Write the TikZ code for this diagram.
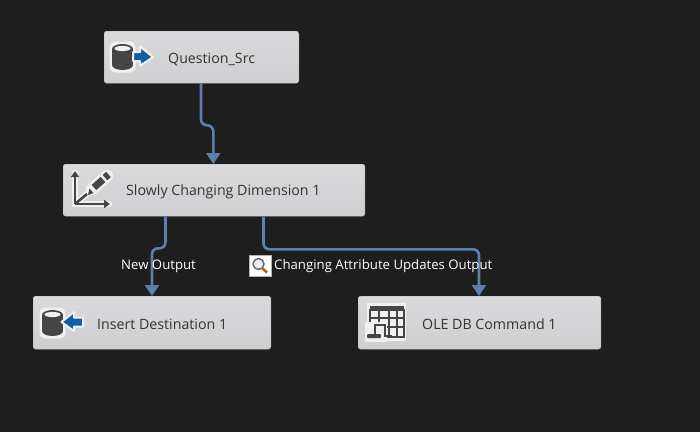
\documentclass[tikz,border=0pt]{standalone}
\usepackage{fontspec}
\setmainfont{Open Sans}
\usetikzlibrary{arrows.meta,calc}
\definecolor{bgc}{HTML}{1E1E1E}
\definecolor{boxtop}{HTML}{DADADC}
\definecolor{boxbot}{HTML}{CFCFD2}
\definecolor{wire}{HTML}{5F7FA8}
\definecolor{ink}{HTML}{333333}
\definecolor{iconc}{HTML}{454545}
\definecolor{halocol}{HTML}{F0F0F0}
\definecolor{arrowblue}{HTML}{0F5FA8}
\tikzset{
  x=1pt,y=-1pt,
  taskbox/.style={rounded corners=2.5pt,top color=boxtop,bottom color=boxbot,draw=boxbot!90!black,line width=.3pt,minimum height=52pt,inner sep=0pt,anchor=north west},
  tasktext/.style={anchor=west,inner sep=0pt,text=ink,font=\fontsize{14.2}{16}\selectfont},
  outlabel/.style={anchor=west,inner sep=0pt,text=white,font=\fontsize{13.2}{15}\selectfont},
  wireline/.style={draw=wire,line width=2.6pt,rounded corners=6pt,-{Triangle[length=11pt,width=14pt]}},
}
% cylinder: left x, top y, width, height
\newcommand{\dbicon}[4]{%
  \fill[halocol,rounded corners=6pt] (#1-2.5,#2-2.5) rectangle (#1+#3+2.5,#2+#4+2.5);
  \fill[iconc] (#1,#2+5) rectangle (#1+#3,#2+#4-5);
  \fill[iconc] (#1+#3/2,#2+#4-5) ellipse[x radius=#3/2,y radius=5];
  \fill[iconc] (#1+#3/2,#2+5) ellipse[x radius=#3/2,y radius=5];
  \fill[halocol] (#1+#3/2,#2+4.5) ellipse[x radius=#3/2-2.5,y radius=2.6];
}
\begin{document}
\begin{tikzpicture}
\useasboundingbox (0,0) rectangle (700,432);
\fill[bgc] (0,0) rectangle (700,432);

\node[taskbox,minimum width=194.7pt] (qs) at (104,31) {};
\node[taskbox,minimum width=301.7pt] (scd) at (63,164) {};
\node[taskbox,minimum width=237.7pt,minimum height=53pt] (ins) at (33,296) {};
\node[taskbox,minimum width=242.7pt,minimum height=53pt] (ole) at (358,296) {};

\coordinate (qsb) at ([xshift=-.5pt]qs.south);
\coordinate (scdt) at ([xshift=-.7pt]scd.north);
\coordinate (scdl) at ([xshift=-48.5pt]scd.south);
\coordinate (scdr) at ([xshift=49.5pt]scd.south);
\coordinate (olet) at ([xshift=-.5pt]ole.north);
\draw[wireline] (qsb) -- ++(0,42) -| (scdt);
\draw[wireline] (scdl) -- ++(0,32) -| (ins.north);
\draw[wireline] (scdr) -- ++(0,33) -| (olet);

\node[tasktext] (t1) at (168,59.5) {Question\_Src};
\node[tasktext] (t2) at (126,192) {Slowly Changing Dimension 1};
\node[tasktext] (t3) at (97,324.5) {Insert Destination 1};
\node[tasktext] (t4) at (422,324.5) {OLE DB Command 1};
\node[outlabel] (l1) at (121,266) {New Output};
\node[outlabel] (l2) at (274,266) {Changing Attribute Updates Output};

% source icon
\dbicon{112}{44}{21}{26}
\path[fill=arrowblue,draw=halocol,line width=2pt,line join=round] (133,52) -- (140,52) -- (140,46.5) -- (153,57) -- (140,66) -- (140,61) -- (133,61) -- cycle;
% destination icon
\dbicon{42}{310}{21}{26}
\path[fill=arrowblue,draw=halocol,line width=2pt,line join=round] (83,317.5) -- (74,317.5) -- (74,312) -- (61.5,322) -- (74,331) -- (74,326.5) -- (83,326.5) -- cycle;

% SCD icon
\draw[halocol,line width=6pt,line cap=round] (75,173) -- (75,204) -- (109,204);
\draw[halocol,line width=6pt,line cap=round] (75,204) -- (88,193);
\draw[halocol,line width=12pt,line cap=round] (92,189) -- (107,176);
\draw[iconc,line width=2.6pt,-{Triangle[length=6pt,width=8pt]}] (75,204) -- (75,171);
\draw[iconc,line width=2.6pt,-{Triangle[length=6pt,width=8pt]}] (75,204) -- (110,204);
\draw[iconc,line width=2.6pt] (75,204) -- (87,194);
\draw[iconc,line width=7pt] (94,187.5) -- (103,179.5);
\draw[iconc,line width=7pt] (105,177.5) -- (108.5,174.5);
\fill[iconc] (88,195) -- (89.5,188.5) -- (93.5,193) -- cycle;

% OLE icon
\fill[halocol] (367,303) rectangle (406,341);
\fill[iconc] (370,306) rectangle (404,310);
\draw[iconc,line width=1.2pt] (370,310) rectangle (404,337);
\foreach \yy in {318,327}{\draw[iconc,line width=1.2pt] (370,\yy) -- (404,\yy);}
\foreach \xx in {379,389,397}{\draw[iconc,line width=1.2pt] (\xx,310) -- (\xx,337);}
\fill[halocol] (365,322) rectangle (387,342);
\draw[iconc,line width=2pt] (375,336) -- (375,325) -- (385,325) -- (385,336) -- (392,336);
\fill[iconc,rounded corners=1pt] (367,334) rectangle (381,338);

% viewer icon
\fill[white] (249,255) rectangle (271,276);
\draw[gray!60,line width=.6pt] (249,255) rectangle (271,276);
\draw[gray!80!black,fill=blue!8!white,line width=1.4pt] (258.5,264) circle[radius=5.5];
\draw[orange!75!black,line width=2.6pt] (262.5,268.5) -- (267,272.5);
\end{tikzpicture}
\end{document}
